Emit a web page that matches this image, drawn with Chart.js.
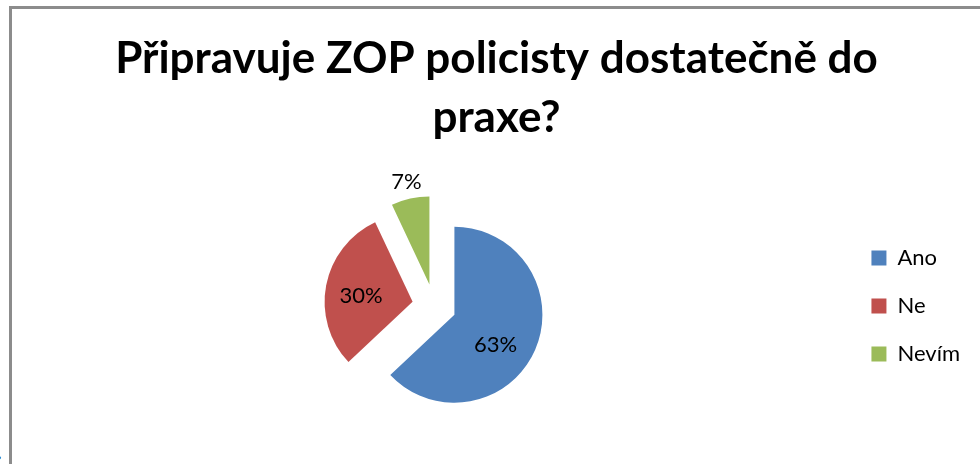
<!DOCTYPE html>
<html>
<head>
<meta charset="utf-8">
<script src="https://cdn.jsdelivr.net/npm/chart.js@4"></script>
<style>
  html, body { margin: 0; padding: 0; background: #fff; overflow: hidden; width: 980px; height: 464px; }
  #frame { position: absolute; left: 9px; top: 6px; width: 990px; height: 480px; border: 3px solid #8c8c8c; }
  #wrap { position: absolute; left: 0; top: 0; width: 976px; height: 455px; }
  #cut { position: absolute; left: -4px; top: 446px; font: bold 22px "Lato"; color: #000; }
</style>
</head>
<body>
<span id="cut">:</span>
<div id="frame">
  <div id="wrap"><canvas id="pieChart" width="976" height="455"></canvas></div>
</div>
<script>
// Data
const categories = ['Ano', 'Ne', 'Nevím'];
const shares = [63, 30, 7];
const sliceColors = ['#4F81BD', '#C0504D', '#9BBB59'];
const titleLines = ['Připravuje ZOP policisty dostatečně do', 'praxe?'];

// where the % labels sit (Excel "best fit"): fraction of radius, angle nudge in degrees
const labelRadius = [0.58, 0.59, 1.2];
const labelTurn = [13, -4, 0];
const explode = 22;

// pull every slice out by the same distance (chart.js offset also grows the radius)
const explodeSlices = {
    id: 'explodeSlices',
    afterDatasetUpdate(chart, args) {
        args.meta.data.forEach(arc => {
            const mid = (arc.startAngle + arc.endAngle) / 2;
            arc.x += Math.cos(mid) * explode;
            arc.y += Math.sin(mid) * explode;
        });
    }
};

const pctLabels = {
    id: 'pctLabels',
    afterDatasetsDraw(chart) {
        const ctx = chart.ctx;
        const meta = chart.getDatasetMeta(0);
        const total = shares.reduce((a, b) => a + b, 0);
        ctx.save();
        ctx.font = '22px Lato';
        ctx.fillStyle = '#000';
        ctx.textAlign = 'center';
        ctx.textBaseline = 'middle';
        meta.data.forEach((arc, i) => {
            const p = arc.getProps(['x', 'y', 'startAngle', 'endAngle', 'outerRadius'], true);
            const mid = (p.startAngle + p.endAngle) / 2 + labelTurn[i] * Math.PI / 180;
            const r = labelRadius[i] * p.outerRadius;
            const txt = Math.round(shares[i] / total * 100) + '%';
            ctx.fillText(txt, p.x + Math.cos(mid) * r, p.y + Math.sin(mid) * r);
        });
        ctx.restore();
    }
};

const ctx = document.getElementById('pieChart').getContext('2d');
new Chart(ctx, {
    type: 'pie',
    data: {
        labels: categories,
        datasets: [{
            data: shares,
            backgroundColor: sliceColors,
            borderWidth: 0,
            hoverOffset: 0,
            radius: 88
        }]
    },
    options: {
        responsive: false,
        animation: false,
        events: [],
        layout: { padding: { left: 11, right: 18, top: 0, bottom: 1 } },
        plugins: {
            title: {
                display: true,
                text: titleLines,
                color: '#000',
                font: { family: 'Lato', size: 44, weight: 'bold', lineHeight: 1.34 },
                padding: { top: 20, bottom: 2 }
            },
            legend: {
                position: 'right',
                fullSize: false,
                labels: {
                    boxWidth: 15,
                    boxHeight: 15,
                    padding: 26,
                    color: '#000',
                    font: { family: 'Lato', size: 22 }
                }
            },
            tooltip: { enabled: false }
        }
    },
    plugins: [explodeSlices, pctLabels]
});
</script>
</body>
</html>
